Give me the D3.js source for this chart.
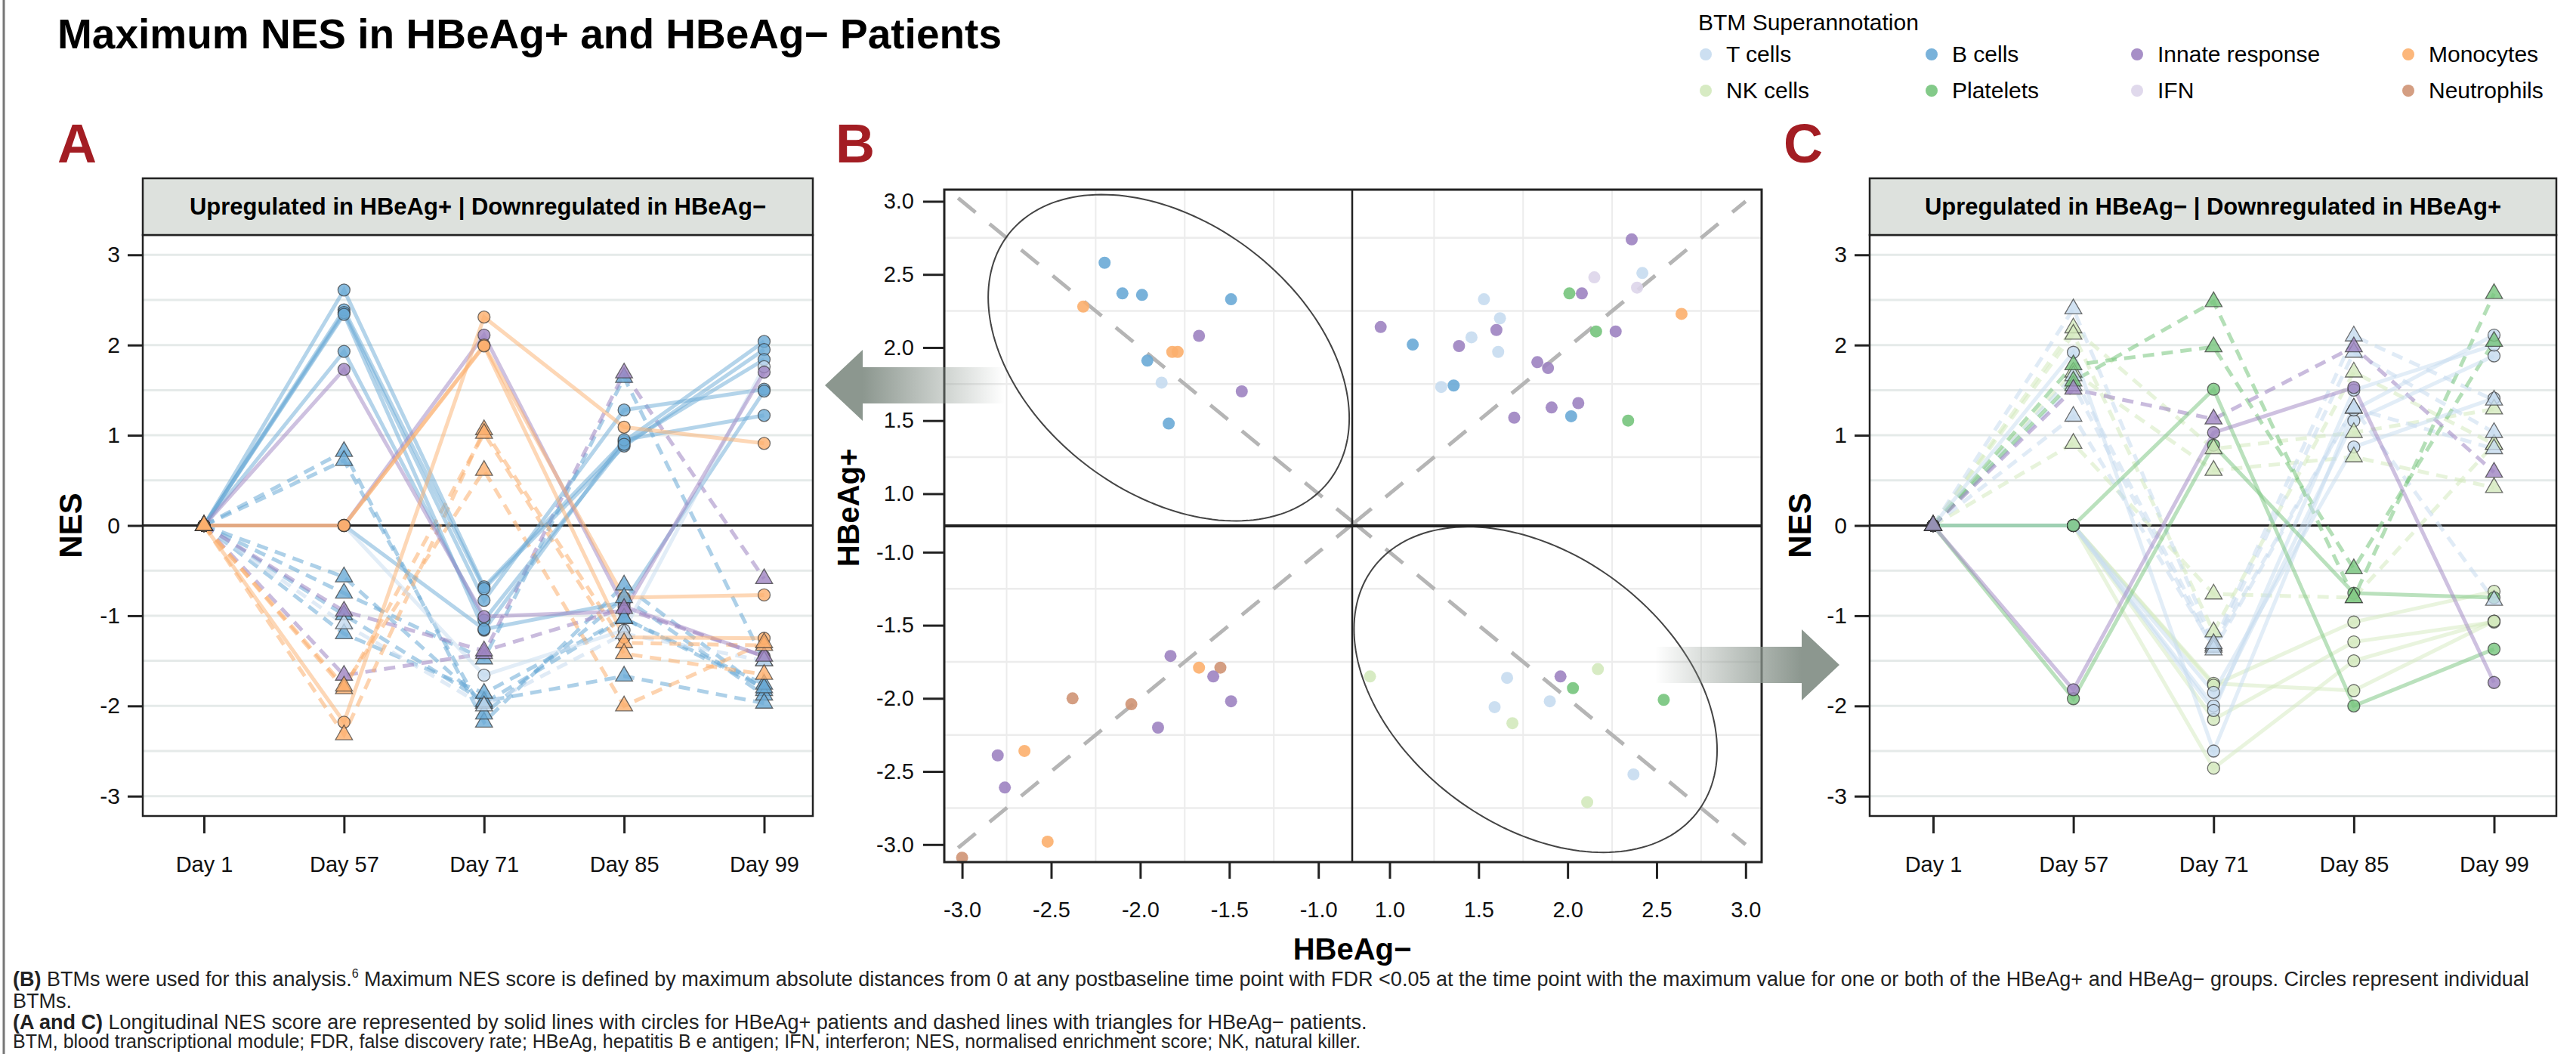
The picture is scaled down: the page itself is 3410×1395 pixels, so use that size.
<!DOCTYPE html>
<html>
<head>
<meta charset="utf-8">
<script src="https://cdn.jsdelivr.net/npm/d3@7"></script>
<style>
body { margin: 0; background: #fff; }
svg { display: block; font-family: "Liberation Sans", Arial, Helvetica, sans-serif; }
</style>
</head>
<body>
<svg id="chart" width="3410" height="1395"></svg>
<script>
// ---- data ----
var days = ["Day 1", "Day 57", "Day 71", "Day 85", "Day 99"];

var legendGroups = ["T cells", "NK cells", "B cells", "Platelets", "Innate response", "IFN", "Monocytes", "Neutrophils"];
var legendColors = ["#c6dbef", "#d3e9bd", "#6aaad6", "#76c47c", "#9d83c1", "#ddd5ea", "#fcaf6d", "#cf9474"];

var nesTicks = [-3, -2, -1, 0, 1, 2, 3];

// panel A: up in HBeAg+, down in HBeAg-
var aModules = ["B cells", "B cells", "B cells", "B cells", "B cells", "B cells", "T cells",
    "Innate response", "Innate response", "Monocytes", "Monocytes", "Monocytes"];
var aPlus = [
    [0, 2.61, -0.68, 0.93, 2.04],
    [0, 2.39, -0.70, 0.88, 1.95],
    [0, 2.36, -0.83, 1.28, 1.51],
    [0, 2.34, -1.16, 0.95, 1.22],
    [0, 1.93, -1.05, 0.90, 1.84],
    [0, 0, -1.15, -0.85, 1.49],
    [0, 0, -1.66, -1.16, 1.76],
    [0, 0, 2.11, -0.90, -1.45],
    [0, 1.73, -1.01, -0.95, 1.70],
    [0, -2.18, 2.31, 1.09, 0.91],
    [0, 0, 2.00, -0.80, -0.77],
    [0, 0, 1.99, -1.24, -1.25]
];
var aMinus = [
    [0, 0.82, -2.18, -0.66, -1.83],
    [0, 0.72, -2.09, -0.80, -1.88],
    [0, -0.57, -1.97, -1.03, -1.76],
    [0, -0.75, -1.48, 1.64, -1.50],
    [0, -0.99, -1.95, -1.67, -1.97],
    [0, -1.20, -1.86, -1.03, -1.80],
    [0, -1.09, -2.00, -1.20, -1.50],
    [0, -1.66, -1.42, 1.69, -0.59],
    [0, -0.95, -1.39, -0.92, -1.45],
    [0, -2.32, 1.06, -1.30, -1.33],
    [0, -1.81, 1.02, -1.42, -1.65],
    [0, -1.78, 0.61, -2.00, -1.30]
];

// panel C: up in HBeAg-, down in HBeAg+
var cModules = ["NK cells", "NK cells", "NK cells", "NK cells", "T cells", "T cells", "T cells", "T cells",
    "Platelets", "Platelets", "Innate response"];
var cPlus = [
    [0, 0, -1.75, -1.83, -1.06],
    [0, 0, -1.77, -1.07, -0.73],
    [0, 0, -2.15, -1.29, -1.07],
    [0, 0, -2.69, -1.50, -1.06],
    [0, 0, -1.85, 0.87, 1.41],
    [0, 0, -2.00, 1.16, 1.88],
    [0, 0, -2.05, 1.50, 2.00],
    [0, 1.92, -2.50, 1.28, 2.11],
    [0, -1.92, 0.89, -0.75, -0.80],
    [0, 0, 1.51, -2.00, -1.37],
    [0, -1.82, 1.03, 1.53, -1.74]
];
var cMinus = [
    [0, 0.91, -0.76, -0.80, 0.90],
    [0, 2.19, 0.85, 1.03, 1.29],
    [0, 1.70, 0.61, 0.76, 0.42],
    [0, 2.12, -1.18, 1.70, 0.90],
    [0, 1.66, -1.33, 1.30, -0.83],
    [0, 1.21, -1.35, 1.92, 1.03],
    [0, 1.55, -1.38, 1.30, 0.85],
    [0, 2.40, -1.31, 2.10, 1.39],
    [0, 1.78, 1.98, -0.48, 2.04],
    [0, 1.60, 2.48, -0.80, 2.57],
    [0, 1.51, 1.18, 1.98, 0.59]
];

// panel B: maximum NES, HBeAg- (x) against HBeAg+ (y)
var bModules = [
    "B cells", "B cells", "B cells", "B cells", "Monocytes", "Innate response", "Monocytes", "Monocytes", "B cells", "T cells", "Innate response", "B cells",
    "Innate response", "T cells", "IFN", "IFN", "Platelets", "Innate response", "T cells", "Monocytes", "T cells", "Innate response", "Innate response", "Platelets", "Innate response",
    "T cells", "B cells", "Innate response", "T cells", "Innate response", "Innate response", "T cells", "B cells", "Innate response", "Innate response", "B cells", "Innate response", "Platelets",
    "Innate response", "Monocytes", "Neutrophils", "Innate response", "Innate response", "Neutrophils", "Neutrophils", "Innate response", "Monocytes", "Innate response", "Innate response", "Monocytes", "Neutrophils",
    "NK cells", "NK cells", "T cells", "Innate response", "Platelets", "T cells", "T cells", "Platelets", "NK cells", "T cells", "NK cells"
];
var bMinusMax = [
    -2.20, -2.10, -1.99, -1.49, -2.32, -1.67, -1.82, -1.79, -1.96, -1.88, -1.43, -1.84,
    2.36, 2.42, 2.15, 2.39, 2.01, 2.08, 1.53, 2.64, 1.62, 0.95, 1.60, 2.16, 2.27,
    1.46, 1.13, 1.39, 1.61, 1.83, 1.89, 1.29, 1.36, 2.06, 1.91, 2.02, 1.70, 2.34,
    -1.83, -1.67, -1.55, -1.59, -1.49, -2.38, -2.05, -1.90, -2.65, -2.80, -2.76, -2.52, -3.00,
    0.89, 2.17, 1.66, 1.96, 2.03, 1.90, 1.59, 2.54, 1.69, 2.37, 2.11
];
var bPlusMax = [
    2.58, 2.37, 2.36, 2.33, 2.28, 2.08, 1.97, 1.97, 1.91, 1.76, 1.70, 1.48,
    2.74, 2.51, 2.48, 2.41, 2.37, 2.37, 2.33, 2.23, 2.20, 2.14, 2.12, 2.11, 2.11,
    2.07, 2.02, 2.01, 1.97, 1.90, 1.86, 1.73, 1.74, 1.62, 1.59, 1.53, 1.52, 1.50,
    -1.71, -1.79, -1.79, -1.85, -2.02, -2.00, -2.04, -2.20, -2.36, -2.39, -2.61, -2.98, -3.09,
    -1.85, -1.80, -1.86, -1.85, -1.93, -2.02, -2.06, -2.01, -2.17, -2.52, -2.71
];
var bTicksNeg = [-3, -2.5, -2, -1.5, -1];
var bTicksPos = [1, 1.5, 2, 2.5, 3];
var bGrid = [1.25, 1.75, 2.25, 2.75];
var diagonalSpan = [0.8, 3.0];

// data ellipses: centre and spread (var x, cov, var y)
var ellipseCentre = [[-1.84, 1.93], [1.82, -1.94]];
var ellipseSpread = [[1.027, -0.419, 1.246], [1.040, -0.422, 1.240]];

// ---- drawing ----
var svg = d3.select("#chart");
var dark = "#222";

function colour(m) {
    return legendColors[legendGroups.indexOf(m)];
}

// frame line on the left
svg.append("line").attr("x1", 5).attr("x2", 5).attr("y1", 0).attr("y2", 1395)
   .attr("stroke", "#777").attr("stroke-width", 3);

svg.append("text").attr("x", 76).attr("y", 64)
   .attr("font-size", 55).attr("font-weight", "bold")
   .text("Maximum NES in HBeAg+ and HBeAg\u2212 Patients");

// legend
svg.append("text").attr("x", 2248).attr("y", 40).attr("font-size", 30).text("BTM Superannotation");
var legendX = [2258, 2557, 2829, 3188];
var legendY = [72, 120];
legendGroups.forEach(function(name, i) {
    var col = Math.floor(i / 2), row = i % 2;
    svg.append("circle").attr("cx", legendX[col]).attr("cy", legendY[row]).attr("r", 8)
       .attr("fill", legendColors[i]).attr("fill-opacity", 0.9);
    svg.append("text").attr("x", legendX[col] + 27).attr("y", legendY[row] + 10)
       .attr("font-size", 30).text(name);
});

// panel letters
[["A", 76], ["B", 1106], ["C", 2361]].forEach(function(p) {
    svg.append("text").attr("x", p[1]).attr("y", 215).attr("font-size", 72)
       .attr("font-weight", "bold").attr("fill", "#a31d23").text(p[0]);
});

function styleAxis(g, size) {
    g.select(".domain").remove();
    g.selectAll(".tick line").attr("stroke", dark).attr("stroke-width", 3);
    g.selectAll(".tick text").attr("font-size", size).attr("fill", "#111")
     .attr("font-family", "\"Liberation Sans\", Arial, sans-serif");
}

function drawLongitudinal(o) {
    var g = svg.append("g");
    var x = d3.scalePoint().domain(days).range([o.xFirst, o.xLast]);
    var y = d3.scaleLinear().domain([-3.22, 3.22]).range([o.bottom, o.top]);

    g.append("rect").attr("x", o.left).attr("y", o.top).attr("width", o.right - o.left)
     .attr("height", o.bottom - o.top).attr("fill", "#fff");

    g.selectAll(".grid").data(d3.range(-3, 3.01, 0.5).filter(function(v) { return v !== 0; }))
     .enter().append("line")
     .attr("x1", o.left).attr("x2", o.right)
     .attr("y1", function(d) { return y(d); }).attr("y2", function(d) { return y(d); })
     .attr("stroke", "#e5eae9").attr("stroke-width", 3);

    g.append("line").attr("x1", o.left).attr("x2", o.right).attr("y1", y(0)).attr("y2", y(0))
     .attr("stroke", dark).attr("stroke-width", 3);

    var line = d3.line().x(function(d, i) { return x(days[i]); }).y(function(d) { return y(d); });

    g.selectAll(".dash").data(o.minus).enter().append("path")
     .attr("d", line).attr("fill", "none")
     .attr("stroke", function(d, i) { return colour(o.modules[i]); })
     .attr("stroke-width", 5).attr("stroke-opacity", 0.55).attr("stroke-dasharray", "15,10");

    g.selectAll(".solid").data(o.plus).enter().append("path")
     .attr("d", line).attr("fill", "none")
     .attr("stroke", function(d, i) { return colour(o.modules[i]); })
     .attr("stroke-width", 5).attr("stroke-opacity", 0.5);

    o.plus.forEach(function(series, i) {
        g.selectAll(null).data(series).enter().append("circle")
         .attr("cx", function(d, j) { return x(days[j]); }).attr("cy", function(d) { return y(d); })
         .attr("r", 8).attr("fill", colour(o.modules[i])).attr("fill-opacity", 0.8)
         .attr("stroke", "#333").attr("stroke-opacity", 0.7).attr("stroke-width", 1.3);
    });
    var tri = d3.symbol().type(d3.symbolTriangle).size(220);
    o.minus.forEach(function(series, i) {
        g.selectAll(null).data(series).enter().append("path")
         .attr("d", tri)
         .attr("transform", function(d, j) { return "translate(" + x(days[j]) + "," + y(d) + ")"; })
         .attr("fill", colour(o.modules[i])).attr("fill-opacity", 0.8)
         .attr("stroke", "#333").attr("stroke-opacity", 0.7).attr("stroke-width", 1.3);
    });

    g.append("rect").attr("x", o.left).attr("y", o.top).attr("width", o.right - o.left)
     .attr("height", o.bottom - o.top).attr("fill", "none").attr("stroke", dark).attr("stroke-width", 2.5);

    // strip
    g.append("rect").attr("x", o.left).attr("y", o.top - 75).attr("width", o.right - o.left)
     .attr("height", 75).attr("fill", "#dde1dd").attr("stroke", dark).attr("stroke-width", 2.5);
    g.append("text").attr("x", (o.left + o.right) / 2).attr("y", o.top - 27)
     .attr("text-anchor", "middle").attr("font-size", 31).attr("font-weight", "bold").text(o.title);

    var ya = g.append("g").attr("transform", "translate(" + o.left + ",0)")
     .call(d3.axisLeft(y).tickValues(nesTicks).tickSize(20).tickPadding(10)
         .tickFormat(function(d) { return String(d); }));
    styleAxis(ya, 30);

    var xa = g.append("g").attr("transform", "translate(0," + o.bottom + ")")
     .call(d3.axisBottom(x).tickSize(23).tickPadding(30));
    styleAxis(xa, 29);

    g.append("text").attr("transform", "translate(" + o.nesX + "," + y(0) + ") rotate(-90)")
     .attr("text-anchor", "middle").attr("dy", "0.36em").attr("font-size", 42)
     .attr("font-weight", "bold").text("NES");
}

drawLongitudinal({
    left: 189, right: 1076, top: 311, bottom: 1080, xFirst: 270, xLast: 1011.5, nesX: 93,
    modules: aModules, plus: aPlus, minus: aMinus,
    title: "Upregulated in HBeAg+ | Downregulated in HBeAg\u2212"
});
drawLongitudinal({
    left: 2475, right: 3384, top: 311, bottom: 1080, xFirst: 2559, xLast: 3301.5, nesX: 2382,
    modules: cModules, plus: cPlus, minus: cMinus,
    title: "Upregulated in HBeAg\u2212 | Downregulated in HBeAg+"
});

// ---- panel B ----
var bLeft = 1250, bRight = 2332, bTop = 251, bBottom = 1141, bMidX = 1790, bMidY = 696;
var xNeg = d3.scaleLinear().domain([-3.10, -0.81]).range([bLeft, bMidX]);
var xPos = d3.scaleLinear().domain([0.79, 3.09]).range([bMidX, bRight]);
var yPos = d3.scaleLinear().domain([0.78, 3.08]).range([bMidY, bTop]);
var yNeg = d3.scaleLinear().domain([-3.12, -0.82]).range([bBottom, bMidY]);
function bx(v) { return v < 0 ? xNeg(v) : xPos(v); }
function by(v) { return v < 0 ? yNeg(v) : yPos(v); }

var gb = svg.append("g");
gb.append("rect").attr("x", bLeft).attr("y", bTop).attr("width", bRight - bLeft)
  .attr("height", bBottom - bTop).attr("fill", "#fff");

bGrid.forEach(function(v) {
    [v, -v].forEach(function(w) {
        gb.append("line").attr("x1", bx(w)).attr("x2", bx(w)).attr("y1", bTop).attr("y2", bBottom)
          .attr("stroke", "#ececec").attr("stroke-width", 2);
        gb.append("line").attr("x1", bLeft).attr("x2", bRight).attr("y1", by(w)).attr("y2", by(w))
          .attr("stroke", "#ececec").attr("stroke-width", 2.5);
    });
});

// identity / anti-identity reference lines in each quadrant
[[-1, 1], [1, 1], [-1, -1], [1, -1]].forEach(function(q) {
    gb.append("line")
      .attr("x1", bx(q[0] * diagonalSpan[0])).attr("y1", by(q[1] * diagonalSpan[0]))
      .attr("x2", bx(q[0] * (q[0] < 0 ? 3.08 : diagonalSpan[1])))
      .attr("y2", by(q[1] * (q[0] < 0 ? 3.08 : diagonalSpan[1])))
      .attr("stroke", "#b5b5b5").attr("stroke-width", 5).attr("stroke-dasharray", "30,24");
});

var ellipseLine = d3.line().curve(d3.curveLinearClosed);
ellipseCentre.forEach(function(c, k) {
    var s = ellipseSpread[k];
    var l11 = Math.sqrt(s[0]), l21 = s[1] / l11, l22 = Math.sqrt(s[2] - l21 * l21);
    var pts = d3.range(0, 2 * Math.PI, Math.PI / 90).map(function(t) {
        return [bx(c[0] + l11 * Math.cos(t)), by(c[1] + l21 * Math.cos(t) + l22 * Math.sin(t))];
    });
    gb.append("path").attr("d", ellipseLine(pts)).attr("fill", "none")
      .attr("stroke", "#444").attr("stroke-width", 2);
});

gb.selectAll(".pt").data(bModules).enter().append("circle")
  .attr("cx", function(d, i) { return bx(bMinusMax[i]); })
  .attr("cy", function(d, i) { return by(bPlusMax[i]); })
  .attr("r", 8).attr("fill", function(d) { return colour(d); }).attr("fill-opacity", 0.9);

gb.append("line").attr("x1", bLeft).attr("x2", bRight).attr("y1", bMidY).attr("y2", bMidY)
  .attr("stroke", dark).attr("stroke-width", 4);
gb.append("line").attr("x1", bMidX).attr("x2", bMidX).attr("y1", bTop).attr("y2", bBottom)
  .attr("stroke", dark).attr("stroke-width", 2.5);
gb.append("rect").attr("x", bLeft).attr("y", bTop).attr("width", bRight - bLeft)
  .attr("height", bBottom - bTop).attr("fill", "none").attr("stroke", dark).attr("stroke-width", 3);

var fmt = function(d) { return d.toFixed(1); };
[[yPos, bTicksPos], [yNeg, bTicksNeg]].forEach(function(p) {
    var a = gb.append("g").attr("transform", "translate(" + bLeft + ",0)")
      .call(d3.axisLeft(p[0]).tickValues(p[1]).tickSize(28).tickPadding(12).tickFormat(fmt));
    styleAxis(a, 29);
});
[[xNeg, bTicksNeg], [xPos, bTicksPos]].forEach(function(p) {
    var a = gb.append("g").attr("transform", "translate(0," + bBottom + ")")
      .call(d3.axisBottom(p[0]).tickValues(p[1]).tickSize(22).tickPadding(30).tickFormat(fmt));
    styleAxis(a, 29);
});
gb.append("text").attr("x", bMidX).attr("y", 1270).attr("text-anchor", "middle")
  .attr("font-size", 40).attr("font-weight", "bold").text("HBeAg\u2212");
gb.append("text").attr("transform", "translate(1137,672) rotate(-90)")
  .attr("text-anchor", "middle").attr("font-size", 40).attr("font-weight", "bold").text("HBeAg+");

// ---- arrows ----
var defs = svg.append("defs");
function fade(id, x1, x2) {
    var gr = defs.append("linearGradient").attr("id", id).attr("gradientUnits", "userSpaceOnUse")
      .attr("x1", x1).attr("x2", x2).attr("y1", 0).attr("y2", 0);
    gr.append("stop").attr("offset", 0).attr("stop-color", "#8c978f").attr("stop-opacity", 1);
    gr.append("stop").attr("offset", 1).attr("stop-color", "#8c978f").attr("stop-opacity", 0);
}
fade("fadeLeft", 1142, 1330);
fade("fadeRight", 2385, 2191);

function arrow(tip, base, tail, cy, id) {
    var pts = [[tip, cy], [base, cy - 47], [base, cy - 24], [tail, cy - 24],
               [tail, cy + 24], [base, cy + 24], [base, cy + 47]];
    svg.append("path").attr("d", "M" + pts.join("L") + "Z").attr("fill", "url(#" + id + ")");
}
arrow(1092, 1142, 1330, 510, "fadeLeft");
arrow(2435, 2385, 2191, 880, "fadeRight");

// ---- footnote ----
var foot = svg.append("g").attr("font-size", 27).attr("fill", "#222");
var l1 = foot.append("text").attr("x", 17).attr("y", 1305);
l1.append("tspan").attr("font-weight", "bold").text("(B)");
l1.append("tspan").text(" BTMs were used for this analysis.");
l1.append("tspan").attr("font-size", 16).attr("dy", -11).text("6");
l1.append("tspan").attr("dy", 11).text(" Maximum NES score is defined by maximum absolute distances from 0 at any postbaseline time point with FDR <0.05 at the time point with the maximum value for one or both of the HBeAg+ and HBeAg\u2212 groups. Circles represent individual");
foot.append("text").attr("x", 17).attr("y", 1334).text("BTMs.");
var l3 = foot.append("text").attr("x", 17).attr("y", 1362);
l3.append("tspan").attr("font-weight", "bold").text("(A and C)");
l3.append("tspan").text(" Longitudinal NES score are represented by solid lines with circles for HBeAg+ patients and dashed lines with triangles for HBeAg\u2212 patients.");
foot.append("text").attr("x", 17).attr("y", 1387).attr("font-size", 25)
  .text("BTM, blood transcriptional module; FDR, false discovery rate; HBeAg, hepatitis B e antigen; IFN, interferon; NES, normalised enrichment score; NK, natural killer.");
</script>
</body>
</html>
